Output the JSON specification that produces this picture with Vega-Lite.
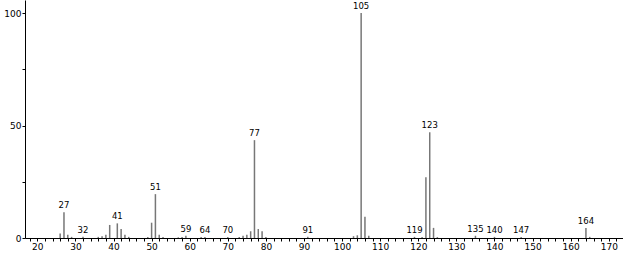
{
  "$schema": "https://vega.github.io/schema/vega-lite/v6.json",
  "width": 598,
  "height": 238,
  "autosize": "none",
  "padding": {"left": 25, "top": 0, "right": 0, "bottom": 16},
  "background": "white",
  "config": {"view": {"stroke": null}, "font": "DejaVu Sans"},
  "data": {"values": [
    {"mz": 26, "i": 2, "lab": ""},
    {"mz": 27, "i": 11.5, "lab": "27"},
    {"mz": 28, "i": 1.5, "lab": ""},
    {"mz": 29, "i": 0.5, "lab": ""},
    {"mz": 32, "i": 0.6, "lab": "32"},
    {"mz": 36, "i": 0.5, "lab": ""},
    {"mz": 37, "i": 0.8, "lab": ""},
    {"mz": 38, "i": 1.5, "lab": ""},
    {"mz": 39, "i": 5.8, "lab": ""},
    {"mz": 41, "i": 6.5, "lab": "41"},
    {"mz": 42, "i": 4, "lab": ""},
    {"mz": 43, "i": 1.5, "lab": ""},
    {"mz": 44, "i": 0.5, "lab": ""},
    {"mz": 49, "i": 0.5, "lab": ""},
    {"mz": 50, "i": 6.8, "lab": ""},
    {"mz": 51, "i": 19.5, "lab": "51"},
    {"mz": 52, "i": 1.5, "lab": ""},
    {"mz": 53, "i": 0.4, "lab": ""},
    {"mz": 57, "i": 0.3, "lab": ""},
    {"mz": 58, "i": 0.4, "lab": ""},
    {"mz": 59, "i": 1, "lab": "59"},
    {"mz": 63, "i": 0.5, "lab": ""},
    {"mz": 64, "i": 0.4, "lab": "64"},
    {"mz": 70, "i": 0.4, "lab": "70"},
    {"mz": 73, "i": 0.4, "lab": ""},
    {"mz": 74, "i": 1, "lab": ""},
    {"mz": 75, "i": 1.5, "lab": ""},
    {"mz": 76, "i": 3, "lab": ""},
    {"mz": 77, "i": 43.5, "lab": "77"},
    {"mz": 78, "i": 4, "lab": ""},
    {"mz": 79, "i": 3, "lab": ""},
    {"mz": 80, "i": 0.5, "lab": ""},
    {"mz": 91, "i": 0.6, "lab": "91"},
    {"mz": 103, "i": 0.8, "lab": ""},
    {"mz": 104, "i": 1.2, "lab": ""},
    {"mz": 105, "i": 100, "lab": "105"},
    {"mz": 106, "i": 9.5, "lab": ""},
    {"mz": 107, "i": 1, "lab": ""},
    {"mz": 119, "i": 0.5, "lab": "119"},
    {"mz": 121, "i": 0.4, "lab": ""},
    {"mz": 122, "i": 27, "lab": ""},
    {"mz": 123, "i": 47, "lab": "123"},
    {"mz": 124, "i": 4.5, "lab": ""},
    {"mz": 125, "i": 0.4, "lab": ""},
    {"mz": 135, "i": 1, "lab": "135"},
    {"mz": 140, "i": 0.5, "lab": "140"},
    {"mz": 147, "i": 0.5, "lab": "147"},
    {"mz": 164, "i": 4.5, "lab": "164"},
    {"mz": 165, "i": 0.5, "lab": ""}
  ]},
  "encoding": {
    "x": {
      "field": "mz", "type": "quantitative",
      "scale": {"domain": [16.77, 173.73], "nice": false, "zero": false},
      "axis": {
        "title": null, "grid": false,
        "values": [18,20,22,24,26,28,30,32,34,36,38,40,42,44,46,48,50,52,54,56,58,60,62,64,66,68,70,72,74,76,78,80,82,84,86,88,90,92,94,96,98,100,102,104,106,108,110,112,114,116,118,120,122,124,126,128,130,132,134,136,138,140,142,144,146,148,150,152,154,156,158,160,162,164,166,168,170,172],
        "labelExpr": "datum.value % 10 == 0 ? datum.label : ''",
        "labelFontSize": 9, "labelColor": "#000", "tickColor": "#000", "domainColor": "#000",
        "tickSize": 3, "labelPadding": 1, "labelFlush": false, "labelOverlap": false
      }
    },
    "y": {
      "field": "i", "type": "quantitative",
      "scale": {"domain": [0, 105.8], "nice": false},
      "axis": {
        "title": null, "grid": false,
        "values": [0, 25, 50, 75, 100],
        "labelExpr": "datum.value % 50 == 0 ? datum.label : ''",
        "labelFontSize": 9, "labelColor": "#000", "tickColor": "#000", "domainColor": "#000",
        "tickSize": 3, "labelPadding": 1
      }
    }
  },
  "layer": [
    {
      "mark": {"type": "rule", "color": "#777", "strokeWidth": 1.5},
      "encoding": {"y2": {"datum": 0}}
    },
    {
      "mark": {"type": "text", "baseline": "bottom", "dy": -2, "fontSize": 8.5, "color": "#000"},
      "encoding": {"text": {"field": "lab"}}
    }
  ]
}
